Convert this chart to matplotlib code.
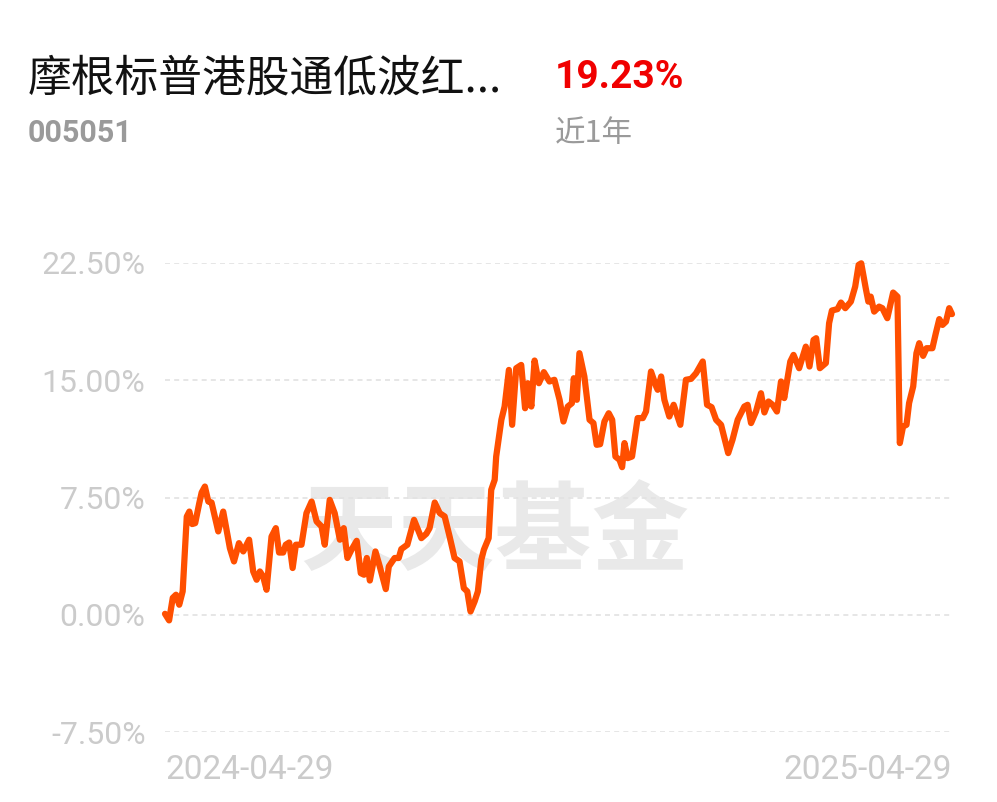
import matplotlib
matplotlib.use("Agg")
import matplotlib.pyplot as plt

# fund info
fund_name = "摩根标普港股通低波红..."
fund_code = "005051"
period_return = "19.23%"
period_label = "近1年"
start_label = "2024-04-29"
end_label = "2025-04-29"

# days since start, cumulative return (%)
days = [0, 1.9, 3.6, 5.1, 6.6, 8.2, 10.1, 11.3, 12.6, 14.0, 15.9, 17.0, 18.5, 20.1, 21.6,
        24.7, 27.0, 30.1, 32.0, 34.3, 36.3, 39.0, 40.9, 42.5, 44.0, 45.5, 47.1, 49.4, 51.4,
        52.9, 54.8, 56.0, 57.6, 59.2, 60.7, 63.3, 65.6, 68.0, 70.3, 72.6, 74.1, 76.4, 78.7,
        81.1, 82.9, 84.6, 86.5, 88.9, 90.8, 92.3, 93.6, 95.0, 97.6, 99.6, 102.4, 103.8,
        106.5, 108.4, 109.6, 112.4, 115.5, 118.9, 121.2, 122.7, 125.1, 127.4, 129.7, 132.0,
        134.3, 136.6, 138.6, 140.2, 141.7, 143.6, 145.1, 146.7, 147.9, 150.1, 151.3, 152.9,
        153.6, 156.0, 157.5, 159.5, 161.0, 162.9, 165.2, 167.0, 168.3, 169.9, 171.4, 173.4,
        175.7, 178.3, 180.6, 183.0, 184.8, 186.8, 188.7, 189.6, 191.0, 192.2, 194.5, 196.9,
        198.7, 200.2, 201.8, 203.8, 205.8, 207.4, 208.9, 210.8, 212.0, 213.1, 214.6, 216.6,
        219.2, 221.6, 223.1, 225.4, 227.8, 228.5, 230.1, 231.6, 233.9, 235.9, 239.0, 241.6,
        244.0, 246.3, 249.4, 251.4, 253.5, 255.6, 257.9, 261.2, 263.2, 265.6, 268.7, 270.2,
        271.8, 274.1, 276.4, 278.0, 279.9, 281.8, 283.8, 285.7, 287.2, 290.0, 291.5, 294.1,
        297.2, 298.9, 300.8, 302.0, 303.7, 306.5, 308.0, 309.3, 311.9, 313.5, 315.5, 318.1,
        320.1, 321.7, 322.9, 325.0, 326.2, 327.3, 328.9, 331.2, 332.7, 335.0, 336.6, 337.7,
        339.7, 340.8, 342.3, 343.9, 345.1, 347.0, 348.5, 349.8, 351.6, 353.2, 355.9, 357.5,
        359.1, 360.6, 362.2, 363.7, 365]
returns = [0.06, -0.36, 1.08, 1.28, 0.64, 1.5, 6.28, 6.6, 5.8, 5.86, 7.14, 7.82, 8.2, 7.24, 7.18,
           5.33, 6.6, 4.26, 3.41, 4.58, 4.05, 4.8, 2.77, 2.24, 2.77, 2.45, 1.6, 5.0, 5.54,
           3.98, 3.98, 4.48, 4.62, 2.99, 4.48, 4.48, 6.5, 7.24, 5.97, 5.65, 4.48, 7.35, 6.5,
           4.8, 5.54, 3.63, 4.16, 4.73, 2.66, 2.56, 3.63, 2.19, 4.05, 3.09, 1.64, 3.09,
           3.63, 3.63, 4.2, 4.48, 6.07, 4.9, 5.18, 5.54, 7.18, 6.5, 6.29, 5.0,
           3.63, 3.41, 1.7, 1.49, 0.21, 0.85, 1.49, 3.52, 4.16, 4.9, 7.99, 8.63,
           10.12, 12.47, 13.32, 15.66, 12.15, 15.77, 15.98, 13.21, 14.81, 13.32, 16.26, 14.81,
           15.52, 14.92, 15.03, 13.75, 12.36, 13.32, 13.53, 15.13, 13.75, 16.73, 15.24, 12.47,
           12.26, 10.87, 10.91, 12.36, 12.89, 12.47, 10.12, 9.91, 9.44, 10.98, 10.02, 10.12,
           12.58, 12.58, 13.0, 15.56, 14.6, 14.39, 15.24, 13.75, 12.68, 13.43, 12.15, 15.03,
           15.09, 15.45, 16.2, 13.43, 13.28, 12.47, 12.15, 10.34, 11.19, 12.47, 13.32, 13.43,
           12.26, 13.0, 14.17, 12.94, 13.64, 13.43, 13.0, 14.92, 13.86, 16.2, 16.62, 15.77,
           17.15, 15.88, 17.58, 17.69, 15.77, 16.1, 18.65, 19.46, 19.55, 19.97, 19.61, 20.03,
           20.99, 22.38, 22.48, 20.88, 20.03, 20.35, 19.39, 19.71, 19.61, 18.97, 19.93, 20.61,
           20.35, 10.98, 12.04, 12.15, 13.54, 14.6, 16.73, 17.37, 16.56, 17.05, 17.05, 18.01,
           18.91, 18.54, 18.75, 19.61, 19.23]
yticks = [-7.5, 0, 7.5, 15, 22.5]

plt.rcParams['font.family'] = ['Roboto', 'Noto Sans CJK SC', 'DejaVu Sans']

fig = plt.figure(figsize=(9.97, 8.02), dpi=100)
ax = fig.add_axes([165/997, 70/802, 787/997, 469/802])

# watermark
ax.text(0.419, 0.42, "天天基金", transform=ax.transAxes, ha='center', va='center',
        fontsize=70, fontweight='bold', color='#e9e9e9', family=['Noto Sans CJK SC'], zorder=0)

for v in yticks:
    ax.axhline(v, color='#e2e2e2', lw=1.2, dashes=(3, 2.5), zorder=1)

ax.plot(days, returns, color='#ff4f00', lw=4.5, solid_joinstyle='round',
        solid_capstyle='round', clip_on=False, zorder=3)

ax.set_xlim(0, 365)
ax.set_ylim(-7.5, 22.5)
ax.set_yticks(yticks)
ax.set_yticklabels(["{:.2f}%".format(v) for v in yticks])
ax.set_xticks([0, 365])
ax.set_xticklabels([start_label, end_label])
xl = ax.get_xticklabels()
xl[0].set_ha('left')
xl[1].set_ha('right')
ax.tick_params(axis='y', length=0, pad=14, labelsize=23, labelcolor='#cbcbcb')
ax.tick_params(axis='x', length=0, pad=16, labelsize=24, labelcolor='#cbcbcb')
for s in ax.spines.values():
    s.set_visible(False)

# header
fig.text(28/997, 1 - 78/802, fund_name, ha='left', va='center', fontsize=31.5,
         color='#111111', family=['Noto Sans CJK SC'])
fig.text(555/997, 1 - 78/802, period_return, ha='left', va='center', fontsize=28,
         fontweight='bold', color='#f00000')
fig.text(28/997, 1 - 133/802, fund_code, ha='left', va='center', fontsize=22,
         fontweight='bold', color='#9a9a9a')
fig.text(555/997, 1 - 133/802, period_label, ha='left', va='center', fontsize=22,
         color='#9a9a9a', family=['Noto Sans CJK SC'])

fig.savefig("out.png", dpi=100, facecolor='white')
